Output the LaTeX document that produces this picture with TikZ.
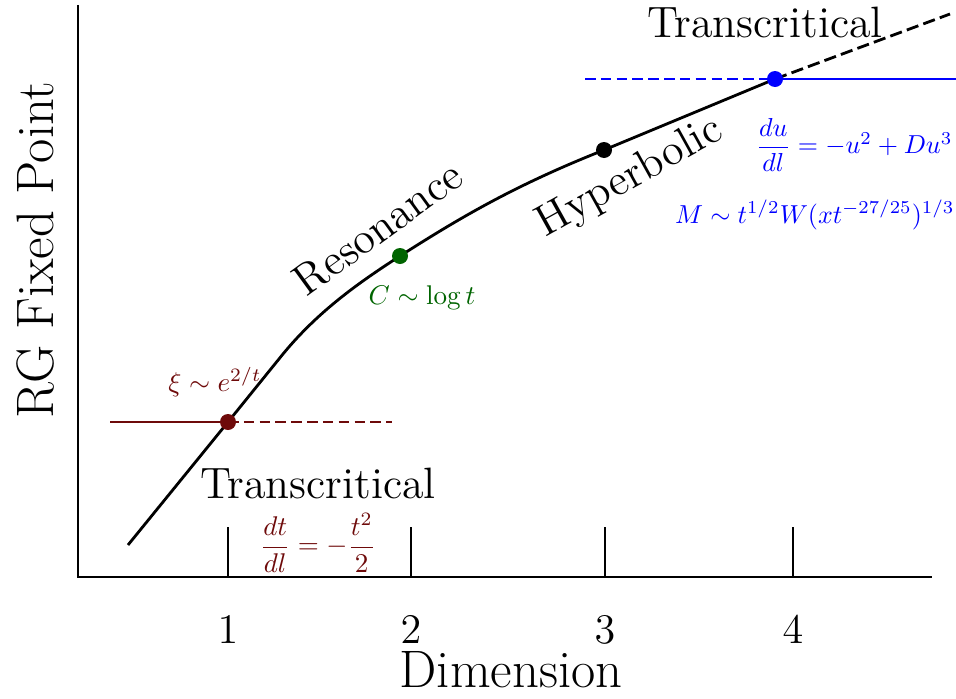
\documentclass[tikz,border=0pt]{standalone}
\usepackage{amsmath,amssymb}
\usepackage{tikz}
\usetikzlibrary{positioning}
\definecolor{tcred}{HTML}{6E0A0A}
\definecolor{resgreen}{HTML}{006400}
\definecolor{tcblue}{HTML}{0000FF}

\begin{document}
\begin{tikzpicture}[thick, every node/.style={font=\fontsize{12.5}{15}\selectfont},
  fixpt/.style={circle, fill, inner sep=0pt, minimum size=0.16cm},
  eqn/.style={font=\normalsize, scale=0.77},
  axlbl/.style={font=\fontsize{15}{18}\selectfont}]
  \useasboundingbox (-0.78,-1.21) rectangle (8.78,5.77);

  % Axes
  \coordinate (ytop) at (0,5.72);
  \coordinate (orig) at (0,0);
  \coordinate (xend) at (8.54,0);
  \draw (ytop) -- (orig) -- (xend);
  \foreach \x/\lab in {1.50/1, 3.33/2, 5.27/3, 7.15/4} {
    \draw (\x,0) -- (\x,0.5);
    \node[font=\fontsize{13}{15}\selectfont] (tick\lab) at (\x,-0.53) {$\lab$};
  }
  \node[axlbl] (xlabel) at (4.33,-0.93) {Dimension};
  \node[axlbl, rotate=90] (ylabel) at (-0.43,3.27) {RG Fixed Point};

  % Fixed point curve
  \coordinate (tcstart) at (0.50,0.32);
  \coordinate (tc1) at (1.50,1.55);
  \coordinate (bend) at (2.05,2.23);
  \coordinate (res) at (3.22,3.21);
  \coordinate (hyp) at (5.26,4.27);
  \coordinate (tc2) at (6.97,4.98);
  \coordinate (tcend) at (8.72,5.63);
  \draw (tcstart) -- (tc1) -- (bend) .. controls (2.42,2.68) and (2.85,2.97) .. (res)
    .. controls (3.80,3.58) and (4.35,3.91) .. (hyp) -- (tc2);
  \draw[dash pattern=on 3.5pt off 1.5pt] (tc2) -- (tcend);

  % Lower transcritical point
  \coordinate (tcleft) at (0.32,1.55);
  \coordinate (tcright) at (3.14,1.55);
  \draw[tcred] (tcleft) -- (tc1);
  \draw[tcred, dash pattern=on 3pt off 1.5pt] (tc1) -- (tcright);
  \node[fixpt, tcred] (tcdot) at (tc1) {};
  \node[eqn, tcred] (xi) at (1.37,1.95) {$\xi \sim e^{2/t}$};
  \node (tclow) at (2.40,0.94) {Transcritical};
  \node[eqn, tcred] (dtdl) at (2.40,0.34) {$\dfrac{dt}{dl} = -\dfrac{t^2}{2}$};

  % Resonance point
  \node[fixpt, resgreen] (resdot) at (res) {};
  \node[rotate=36] (reslbl) at (3.00,3.49) {Resonance};
  \node[eqn, resgreen] (clog) at (3.44,2.79) {$C \sim \log t$};

  % Hyperbolic point
  \node[fixpt, black] (hypdot) at (hyp) {};
  \node[rotate=29] (hyplbl) at (5.52,3.99) {Hyperbolic};

  % Upper transcritical point
  \coordinate (tcbleft) at (5.07,4.98);
  \coordinate (tcbright) at (8.78,4.98);
  \draw[tcblue, dash pattern=on 3pt off 1.5pt] (tcbleft) -- (tc2);
  \draw[tcblue] (tc2) -- (tcbright);
  \node[fixpt, tcblue] (tc2dot) at (tc2) {};
  \node[eqn, scale=0.96, tcblue, anchor=west, inner sep=0pt] (dudl) at (6.77,4.32) {$\dfrac{du}{dl} = -u^2 + Du^3$};
  \node[eqn, scale=0.96, tcblue, anchor=west, inner sep=0pt] (mscal) at (5.96,3.62) {$M \sim t^{1/2} W(x t^{-27/25})^{1/3}$};
  \node (tchigh) at (6.87,5.55) {Transcritical};
\end{tikzpicture}
\end{document}
